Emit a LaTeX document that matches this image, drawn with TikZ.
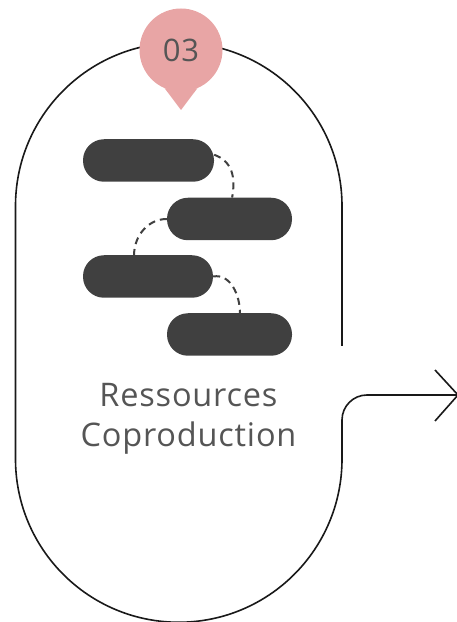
\documentclass[tikz,border=0pt]{standalone}
\usepackage{fontspec}
\usepackage{xcolor}
\setmainfont{Open Sans}
\newfontfamily\labelfont[LetterSpace=2.5]{Open Sans}
\definecolor{pinpink}{HTML}{E8A5A5}
\definecolor{bardark}{HTML}{404040}
\definecolor{labelgray}{HTML}{555555}
\tikzstyle{outline} = [draw=black!90,line width=1.6pt]
\tikzstyle{barbox} = [fill=bardark,rectangle,rounded corners=21pt,inner sep=0pt,
  minimum width=128pt,minimum height=42.5pt]
\tikzstyle{barlink} = [draw=bardark,line width=2pt,dash pattern=on 7pt off 5pt]
\tikzstyle{badge} = [fill=pinpink,text=labelgray,circle,inner sep=0pt,minimum size=83pt,
  font=\labelfont\fontsize{31}{36}\selectfont]
\tikzstyle{caption} = [text=labelgray,align=center,inner sep=0pt,
  font=\labelfont\fontsize{32.5}{40}\selectfont]

\begin{document}
\begin{tikzpicture}[x=1pt,y=1pt]
    \useasboundingbox (0,0) rectangle (457,622);
    % outer loop, open on the right for the arrow
    \draw [outline] (342,276) -- (342,416) arc (0:180:163.25) -- (15.5,163)
      arc (180:360:163.25) -- (342,202) arc (180:90:25) -- (458,227);
    \draw [outline] (435,252) -- (458,227) -- (435,201);
    % number badge
    \node [badge] (badge) at (181,572) {03};
    \coordinate (tip) at (181,512);
    \fill [pinpink] (badge.-113) -- (tip) -- (badge.-67) -- cycle;
    % bars
    \node [barbox,minimum width=131pt] (bara) at (148.5,461.5) {};
    \node [barbox,minimum width=125pt] (barb) at (229.5,403) {};
    \node [barbox,minimum width=130pt] (barc) at (148,345.5) {};
    \node [barbox,minimum width=125pt] (bard) at (229.5,287.5) {};
    % dashed links
    \draw [barlink] (bara.5) to[out=-20,in=80,looseness=1.1] (barb.83);
    \draw [barlink] (barb.west) to[out=180,in=90] (barc.123);
    \draw [barlink] (barc.east) to[out=10,in=90] (bard.64);
    \node [caption] (title) at (188.5,203) {Ressources\\Coproduction};
\end{tikzpicture}
\end{document}
